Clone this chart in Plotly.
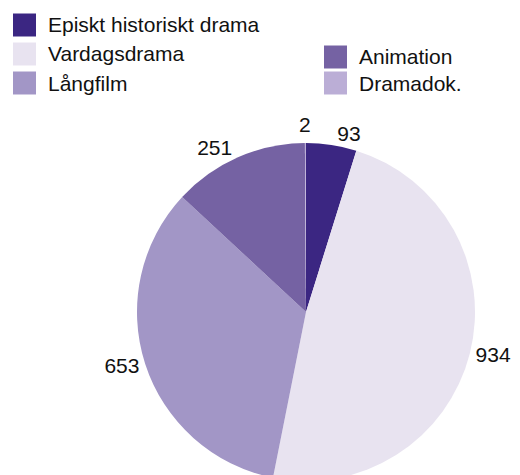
import math
import plotly.graph_objects as go

# Genre counts, clockwise from 12 o'clock
genres = ["Episkt historiskt drama", "Vardagsdrama", "Långfilm", "Animation", "Dramadok."]
counts = [93, 934, 653, 251, 2]
colors = ["#3b2682", "#e8e3f0", "#a296c6", "#7562a3", "#bbaed6"]

W, H = 520, 490
FONT = "Arial, Liberation Sans, sans-serif"

# Pie placement in pixels: centre and radius
CX, CY, R = 306, 312, 169

# The tiniest slice gets its value written straight above it instead of a
# pulled-out label with a leader line.
tiny = [c / sum(counts) < 0.005 for c in counts]
positions = ["none" if t else "outside" for t in tiny]

fig = go.Figure(
    go.Pie(
        labels=genres,
        values=counts,
        sort=False,
        direction="clockwise",
        rotation=0,
        marker=dict(colors=colors, line=dict(width=0)),
        textinfo="value",
        textposition=positions,
        outsidetextfont=dict(size=21, color="#111111", family=FONT),
        showlegend=False,
        hoverinfo="label+value",
        domain=dict(x=[(CX - R) / W, (CX + R) / W], y=[(H - CY - R) / H, (H - CY + R) / H]),
    )
)


def px_x(v):
    return v / W


def px_y(v):
    return 1 - v / H


annotations, shapes = [], []

# Value labels for the tiny slices, along the slice's mid angle
total = sum(counts)
cum = 0
for c, t in zip(counts, tiny):
    mid = (cum + c / 2) / total * 2 * math.pi
    cum += c
    if not t:
        continue
    dist = R + 5
    annotations.append(dict(
        text=str(c), xref="paper", yref="paper",
        x=px_x(CX + dist * math.sin(mid)), y=px_y(CY - dist * math.cos(mid)),
        xanchor="center", yanchor="bottom", showarrow=False,
        font=dict(size=21, color="#111111", family=FONT),
    ))

# Legend: (column x of swatch, row centre y) per genre
legend_pos = [(13, 25), (13, 54), (13, 83), (324, 57), (324, 83)]
SW = 23
for name, col, (lx, ly) in zip(genres, colors, legend_pos):
    shapes.append(dict(
        type="rect", xref="paper", yref="paper",
        x0=px_x(lx), x1=px_x(lx + SW),
        y0=px_y(ly + SW / 2), y1=px_y(ly - SW / 2),
        fillcolor=col, line=dict(width=0),
    ))
    annotations.append(dict(
        text=name, xref="paper", yref="paper",
        x=px_x(lx + 33), y=px_y(ly),
        xanchor="left", yanchor="middle", showarrow=False,
        font=dict(size=21, color="#111111", family=FONT),
    ))

fig.update_layout(
    width=W, height=H,
    margin=dict(l=0, r=0, t=0, b=0),
    paper_bgcolor="white", plot_bgcolor="white",
    shapes=shapes, annotations=annotations,
    font=dict(family=FONT),
)

fig.write_html("out.html")
